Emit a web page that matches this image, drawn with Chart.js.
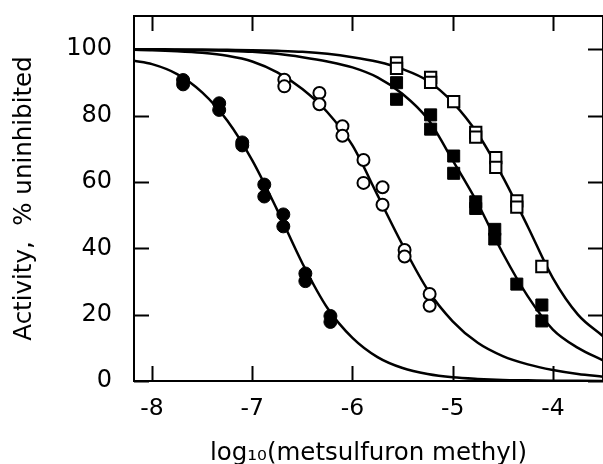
<!DOCTYPE html>
<html>
<head>
<meta charset="utf-8">
<script src="https://cdn.jsdelivr.net/npm/chart.js@4/dist/chart.umd.min.js"></script>
<style>
  html, body { margin: 0; padding: 0; background: #fff; }
  #wrap { width: 603px; height: 464px; }
</style>
</head>
<body>
<div id="wrap"><canvas id="doseChart" width="603" height="464"></canvas></div>
<script>
// axis ticks
const xTicks = [-8, -7, -6, -5, -4];
const yTicks = [0, 20, 40, 60, 80, 100];

// measured points (log10 concentration, % activity)
const filledCircleX = [-7.69, -7.69, -7.33, -7.33, -7.10, -7.10, -6.88, -6.88, -6.69, -6.69, -6.47, -6.47, -6.22, -6.22];
const filledCircleY = [90.7, 89.4, 83.7, 81.7, 71.9, 71.0, 59.2, 55.6, 50.2, 46.6, 32.4, 30.1, 19.6, 17.8];

const openCircleX = [-6.68, -6.68, -6.33, -6.33, -6.10, -6.10, -5.89, -5.89, -5.70, -5.70, -5.48, -5.48, -5.23, -5.23];
const openCircleY = [90.8, 88.8, 86.8, 83.4, 76.8, 73.9, 66.6, 59.7, 58.4, 53.1, 39.5, 37.5, 26.2, 22.7];

const filledSquareX = [-5.56, -5.56, -5.22, -5.22, -4.99, -4.99, -4.77, -4.77, -4.58, -4.58, -4.36, -4.11, -4.11];
const filledSquareY = [89.9, 84.9, 80.2, 75.9, 67.8, 62.6, 54.0, 52.0, 45.7, 42.8, 29.2, 22.9, 18.1];

const openSquareX = [-5.56, -5.56, -5.22, -5.22, -4.99, -4.77, -4.77, -4.57, -4.57, -4.36, -4.36, -4.11];
const openSquareY = [95.9, 94.2, 91.5, 90.0, 84.2, 74.9, 73.5, 67.3, 64.4, 54.3, 52.4, 34.5];

// fitted curves
const curveX = [-8.18, -8, -7.75, -7.5, -7.25, -7, -6.75, -6.5, -6.25, -6, -5.75, -5.5, -5.25, -5, -4.75, -4.5, -4.25, -4, -3.75, -3.5];
const curve1Y = [96.5, 95.5, 92.5, 87, 78.5, 66.5, 51.5, 35.5, 22, 13, 7.2, 3.9, 2.1, 1.1, 0.6, 0.3, 0.2, 0.1, 0.05, 0];
const curve2Y = [99.8, 99.7, 99.4, 98.9, 98, 96.3, 93, 88, 81, 71, 56, 41, 27.5, 18, 11.5, 7.5, 5, 3.3, 2.1, 1.3];
const curve3Y = [99.9, 99.9, 99.8, 99.7, 99.5, 99.2, 98.6, 97.6, 96.3, 94.5, 91.5, 86.5, 79, 66.5, 53.5, 38.5, 25.5, 15.5, 10, 6.2];
const curve4Y = [100, 100, 99.9, 99.9, 99.8, 99.7, 99.5, 99.2, 98.6, 97.6, 96.2, 94, 90.5, 84, 74.5, 61.5, 46.5, 31, 20, 13.5];

const toPoints = (xs, ys) => xs.map((x, i) => ({ x: x, y: ys[i] }));

function curve(ys) {
    return {
        data: toPoints(curveX, ys),
        showLine: true,
        borderColor: '#000',
        borderWidth: 2.5,
        pointRadius: 0,
        cubicInterpolationMode: 'monotone',
        order: 2
    };
}

function markers(xs, ys, style, radius, filled) {
    return {
        data: toPoints(xs, ys),
        pointStyle: style,
        pointRadius: radius,
        pointBackgroundColor: filled ? '#000' : '#fff',
        pointBorderColor: '#000',
        pointBorderWidth: filled ? 1 : 2,
        order: 1
    };
}

// keep the plot box fixed: no extra room for overhanging labels
function fixBox(scale, size) {
    if (scale.isHorizontal()) scale.height = size; else scale.width = size;
    scale.paddingTop = 0;
    scale.paddingBottom = 0;
    scale.paddingLeft = 0;
    scale.paddingRight = 0;
}

// box round the plot with inward tick marks on all four sides
const framePlugin = {
    id: 'frame',
    afterDraw(chart) {
        const { ctx, chartArea: a, scales } = chart;
        const tick = 15;
        ctx.save();
        ctx.strokeStyle = '#000';
        ctx.lineWidth = 2;
        ctx.strokeRect(a.left, a.top, a.right - a.left, a.bottom - a.top);
        ctx.beginPath();
        xTicks.forEach(v => {
            const px = Math.round(scales.x.getPixelForValue(v)) + 0.5;
            ctx.moveTo(px, a.bottom); ctx.lineTo(px, a.bottom - tick);
            ctx.moveTo(px, a.top); ctx.lineTo(px, a.top + tick);
        });
        yTicks.forEach(v => {
            const py = Math.round(scales.y.getPixelForValue(v)) + 0.5;
            ctx.moveTo(a.left, py); ctx.lineTo(a.left + tick, py);
            ctx.moveTo(a.right, py); ctx.lineTo(a.right - tick, py);
        });
        ctx.stroke();
        ctx.restore();
    }
};

const font = "'DejaVu Sans', sans-serif";

new Chart(document.getElementById('doseChart'), {
    type: 'scatter',
    data: {
        datasets: [
            markers(filledCircleX, filledCircleY, 'circle', 6.5, true),
            markers(openCircleX, openCircleY, 'circle', 6, false),
            markers(filledSquareX, filledSquareY, 'rect', 8.5, true),
            markers(openSquareX, openSquareY, 'rect', 8, false),
            curve(curve1Y),
            curve(curve2Y),
            curve(curve3Y),
            curve(curve4Y)
        ]
    },
    options: {
        responsive: false,
        animation: false,
        devicePixelRatio: 1,
        layout: { autoPadding: false, padding: { top: 16, right: 0, bottom: 0, left: 0 } },
        plugins: {
            legend: { display: false },
            tooltip: { enabled: false }
        },
        scales: {
            x: {
                type: 'linear',
                min: -8.18,
                max: -3.5,
                afterBuildTicks: axis => { axis.ticks = xTicks.map(v => ({ value: v })); },
                afterFit: scale => fixBox(scale, 83),
                grid: { display: false, drawTicks: false },
                border: { display: false },
                ticks: { padding: 14, color: '#000', font: { family: font, size: 23.5 } },
                title: {
                    display: true,
                    text: 'log\u2081\u2080(metsulfuron methyl)',
                    color: '#000',
                    font: { family: font, size: 24.5, lineHeight: 0.88 },
                    padding: { top: 0, bottom: 0 }
                }
            },
            y: {
                min: 0,
                max: 110,
                afterBuildTicks: axis => { axis.ticks = yTicks.map(v => ({ value: v })); },
                afterFit: scale => fixBox(scale, 134),
                grid: { display: false, drawTicks: false },
                border: { display: false },
                ticks: { padding: 22, color: '#000', font: { family: font, size: 24 } },
                title: {
                    display: true,
                    text: 'Activity,  % uninhibited',
                    color: '#000',
                    font: { family: font, size: 24.5, lineHeight: 1.2 },
                    padding: { top: 10, bottom: 0 }
                }
            }
        }
    },
    plugins: [framePlugin]
});
</script>
</body>
</html>
